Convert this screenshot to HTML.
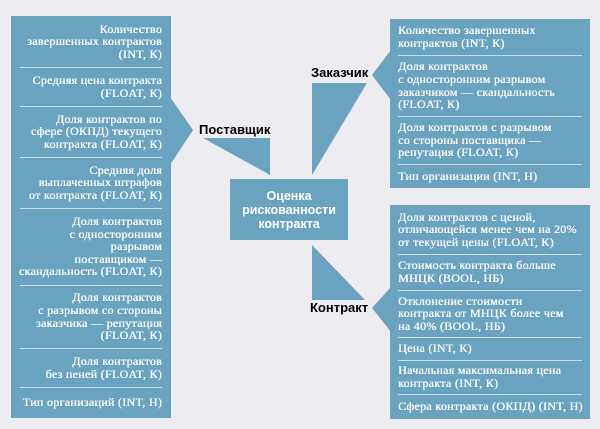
<!DOCTYPE html>
<html><head><meta charset="utf-8"><style>
body{margin:0;width:600px;height:429px;background:#ececf1;position:relative;overflow:hidden;font-family:"Liberation Serif","DejaVu Serif",serif;}
.box{position:absolute;background:#6aa3c0;}
.r{position:absolute;display:flex;align-items:center;color:#fff;font-size:12px;line-height:12.6px;letter-spacing:0.3px;text-shadow:0.35px 0 0 #fff;white-space:nowrap;}
.L .r{left:9px;width:142px;justify-content:flex-end;text-align:right;}
.R .r{left:8px;width:185px;text-align:left;}
.sep{position:absolute;height:1px;background:#c9dde8;}
.L .sep{left:9px;width:142px;}
.R .sep{left:8px;width:184px;}
.lab{position:absolute;font-family:"Liberation Sans",sans-serif;font-weight:bold;font-size:13px;color:#000;}
</style></head><body>
<svg width="600" height="429" style="position:absolute;left:0;top:0">
<g fill="#6aa3c0">
<polygon points="170,97 193,130 170,165"/>
<polygon points="203,138 270,138 270,175"/>
<polygon points="391,50 372,75 391,100"/>
<polygon points="312,83 367,83 312,175"/>
<polygon points="391,287 372,308 391,332"/>
<polygon points="312,245 312,300 365,300"/>
</g>
</svg>
<div class="box L" style="left:11px;top:16px;width:160px;height:402px">
<div class="r" style="top:0;height:51px">Количество<br>завершенных контрактов<br>(INT, К)</div>
<div class="sep" style="top:51px"></div>
<div class="r" style="top:51px;height:39px">Средняя цена контракта<br>(FLOAT, К)</div>
<div class="sep" style="top:90px"></div>
<div class="r" style="top:90px;height:51px">Доля контрактов по<br>сфере (ОКПД) текущего<br>контракта (FLOAT, К)</div>
<div class="sep" style="top:141px"></div>
<div class="r" style="top:141px;height:51px">Средняя доля<br>выплаченных штрафов<br>от контракта (FLOAT, К)</div>
<div class="sep" style="top:192px"></div>
<div class="r" style="top:192px;height:77px">Доля контрактов<br>с односторонним<br>разрывом<br>поставщиком —<br>скандальность (FLOAT, К)</div>
<div class="sep" style="top:269px"></div>
<div class="r" style="top:269px;height:63px">Доля контрактов<br>с разрывом со стороны<br>заказчика — репутация<br>(FLOAT, К)</div>
<div class="sep" style="top:332px"></div>
<div class="r" style="top:332px;height:39px">Доля контрактов<br>без пеней (FLOAT, К)</div>
<div class="sep" style="top:371px"></div>
<div class="r" style="top:371px;height:31px">Тип организаций (INT, Н)</div>
</div>
<div class="box R" style="left:390px;top:19px;width:200px;height:169px">
<div class="r" style="top:0;height:36px">Количество завершенных<br>контрактов (INT, К)</div>
<div class="sep" style="top:36px"></div>
<div class="r" style="top:36px;height:61px">Доля контрактов<br>с односторонним разрывом<br>заказчиком — скандальность<br>(FLOAT, К)</div>
<div class="sep" style="top:97px"></div>
<div class="r" style="top:97px;height:48px">Доля контрактов с разрывом<br>со стороны поставщика —<br>репутация (FLOAT, К)</div>
<div class="sep" style="top:145px"></div>
<div class="r" style="top:145px;height:24px">Тип организации (INT, Н)</div>
</div>
<div class="box R" style="left:390px;top:205px;width:200px;height:214px">
<div class="r" style="top:0;height:49px">Доля контрактов с ценой,<br>отличающейся менее чем на 20%<br>от текущей цены (FLOAT, К)</div>
<div class="sep" style="top:49px"></div>
<div class="r" style="top:49px;height:36px">Стоимость контракта больше<br>МНЦК (BOOL, НБ)</div>
<div class="sep" style="top:85px"></div>
<div class="r" style="top:85px;height:47px">Отклонение стоимости<br>контракта от МНЦК более чем<br>на 40% (BOOL, НБ)</div>
<div class="sep" style="top:132px"></div>
<div class="r" style="top:132px;height:23px">Цена (INT, К)</div>
<div class="sep" style="top:155px"></div>
<div class="r" style="top:155px;height:34px">Начальная максимальная цена<br>контракта (INT, К)</div>
<div class="sep" style="top:189px"></div>
<div class="r" style="top:189px;height:25px">Сфера контракта (ОКПД) (INT, Н)</div>
</div>
<div class="box" style="left:230px;top:179px;width:118px;height:61px;display:flex;align-items:center;justify-content:center;text-align:center;color:#fff;font-family:'Liberation Sans',sans-serif;font-weight:bold;font-size:12.5px;line-height:14px">Оценка<br>рискованности<br>контракта</div>
<div class="lab" style="left:199px;top:122px">Поставщик</div>
<div class="lab" style="left:311px;top:65px">Заказчик</div>
<div class="lab" style="left:310px;top:300px">Контракт</div>
</body></html>
